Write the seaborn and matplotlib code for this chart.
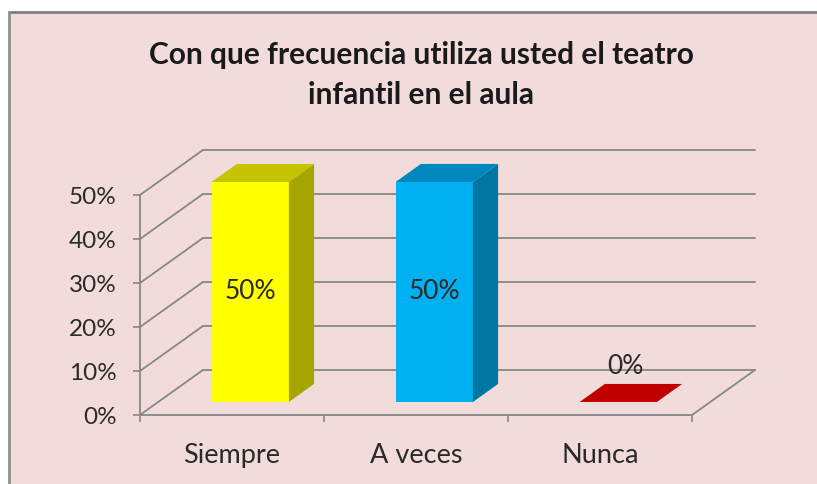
import matplotlib
matplotlib.use("Agg")
import matplotlib.pyplot as plt
from matplotlib.patches import Polygon, Rectangle
from matplotlib.lines import Line2D
from matplotlib.ticker import PercentFormatter
import seaborn as sns
import pandas as pd

categories = ["Siempre", "A veces", "Nunca"]
values = [0.50, 0.50, 0.0]
front_colors = ["#FFFF00", "#00B0F0", "#C00000"]
side_colors = ["#A6A600", "#0076A3", "#8C0000"]
top_colors = ["#C4C400", "#0088BE", "#C00000"]
yticks = [0.0, 0.1, 0.2, 0.3, 0.4, 0.5]
title_lines = ["Con que frecuencia utiliza usted el teatro", "infantil en el aula"]

df = pd.DataFrame({"cat": categories, "val": values})

# 3d look: depth of the floor in data units, bar sits between f1 and f2 of it
depth_x, depth_y = 0.342, 0.1023
f1, f2 = 0.29, 0.69
grid_c = "#868686"
text_c = "#2A2A2A"

sns.set_style("white")
plt.rcParams["font.family"] = ["Lato", "DejaVu Sans"]

fig = plt.figure(figsize=(8.17, 4.84), dpi=100)
fig.patch.set_facecolor("white")
W, H = 817, 484
fig.patches.append(Rectangle((9 / W, 0), 1, 1 - 12 / H, transform=fig.transFigure,
                             facecolor="#F2DCDB", edgecolor="none", zorder=-10))
fig.lines.append(Line2D([9 / W, 1], [1 - 12 / H] * 2, transform=fig.transFigure, color="#7F7F7F", lw=2, zorder=-9))
fig.lines.append(Line2D([9 / W] * 2, [0, 1 - 12 / H], transform=fig.transFigure, color="#8F8F8F", lw=2, zorder=-9))

ax = fig.add_axes([140 / W, (H - 415) / H, (755 - 140) / W, (415 - 150) / H])
ax.set_facecolor("none")

sns.barplot(data=df, x="cat", y="val", hue="cat", palette=front_colors,
            width=0.42, legend=False, ax=ax, saturation=1, zorder=3)

ax.set_xlim(-0.5, 2.5 + depth_x)
ax.set_ylim(0, 0.5 + depth_y)

# walls and gridlines
for v in yticks:
    ax.plot([-0.5, -0.5 + depth_x], [v, v + depth_y], color=grid_c, lw=1.3, zorder=1, clip_on=False)
    ax.plot([-0.5 + depth_x, 2.5 + depth_x], [v + depth_y] * 2, color=grid_c, lw=1.3, zorder=1, clip_on=False)
ax.plot([-0.5, -0.5], [0, 0.5], color=grid_c, lw=1.3, zorder=1, clip_on=False)
ax.plot([-0.5, 2.5], [0, 0], color=grid_c, lw=1.3, zorder=1, clip_on=False)
ax.plot([2.5, 2.5 + depth_x], [0, depth_y], color=grid_c, lw=1.3, zorder=1, clip_on=False)

# shift the front faces into depth and add top / side faces
ddx, ddy = (f2 - f1) * depth_x, (f2 - f1) * depth_y
for bar, val, sc, tc in zip(ax.patches, values, side_colors, top_colors):
    x0 = bar.get_x() + f1 * depth_x
    y0 = f1 * depth_y
    w = bar.get_width()
    h = bar.get_height()
    bar.set_x(x0)
    bar.set_y(y0)
    bar.set_edgecolor("none")
    top = y0 + h
    ax.add_patch(Polygon([(x0, top), (x0 + w, top), (x0 + w + ddx, top + ddy), (x0 + ddx, top + ddy)],
                         closed=True, facecolor=tc, edgecolor="none", zorder=3, clip_on=False))
    if h > 0:
        ax.add_patch(Polygon([(x0 + w, y0), (x0 + w + ddx, y0 + ddy), (x0 + w + ddx, top + ddy), (x0 + w, top)],
                             closed=True, facecolor=sc, edgecolor="none", zorder=3, clip_on=False))
        ax.text(x0 + w / 2, y0 + h / 2, f"{val:.0%}", ha="center", va="center",
                fontsize=19, color=text_c, zorder=4)
    else:
        ax.text(x0 + (w + ddx) / 2 - 0.03, top + ddy + 0.04, f"{val:.0%}", ha="center", va="center",
                fontsize=19, color=text_c, zorder=4)

sns.despine(ax=ax, left=True, bottom=True)
ax.set_yticks(yticks)
ax.yaxis.set_major_formatter(PercentFormatter(1.0, decimals=0))
ax.tick_params(axis="y", length=5, width=1.2, color=grid_c, pad=12, labelsize=17.5, labelcolor=text_c, left=True)
ax.set_xticks([0, 1, 2])
ax.set_xticklabels(categories)
ax.set_xticks([-0.5, 0.5, 1.5, 2.5], minor=True)
ax.tick_params(axis="x", which="major", length=0, pad=20, labelsize=19.5, labelcolor=text_c)
ax.tick_params(axis="x", which="minor", length=5, width=1.2, color=grid_c, bottom=True)
ax.set_xlabel("")
ax.set_ylabel("")

for line, ypx in zip(title_lines, [55, 95]):
    fig.text(421 / W, 1 - ypx / H, line, ha="center", va="center", fontsize=21.5,
             fontweight="bold", color="#1A1A1A")

fig.savefig("out.png", dpi=100)
